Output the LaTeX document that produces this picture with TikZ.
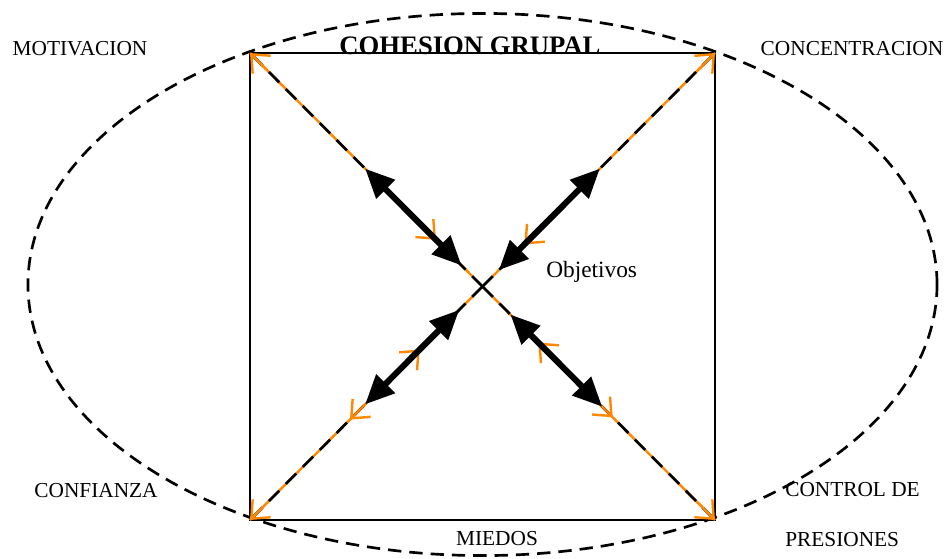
\documentclass[tikz,border=0pt]{standalone}
\usepackage{fontspec}
\setmainfont{Liberation Serif}
\usetikzlibrary{arrows.meta,calc}
\definecolor{naranja}{RGB}{255,136,0}

\begin{document}
\begin{tikzpicture}[x=0.75pt, y=-0.75pt,
  lbl/.style={font=\fontsize{16}{18}\selectfont, inner sep=0pt},
  ttl/.style={font=\fontsize{20}{22}\selectfont\bfseries, inner sep=0pt},
  ring/.style={line width=2pt, dash pattern=on 10pt off 6pt},
  diagbg/.style={draw=naranja, line width=1.8pt},
  diag/.style={line width=2pt, dash pattern=on 11pt off 7pt},
  otip/.style={-{Straight Barb[length=11pt, width=19pt]}, draw=naranja, line width=1.8pt},
  big/.style={{Triangle[length=22pt, width=19pt]}-{Triangle[length=22pt, width=19pt]}, line width=4.6pt},
]
\useasboundingbox (0,0) rectangle (950,558);

% === COHESION GRUPAL ===
\coordinate (nw) at (250,53);
\coordinate (ne) at (715,53);
\coordinate (se) at (715,520);
\coordinate (sw) at (250,520);
\coordinate (o) at ($(nw)!0.5!(se)$);

\draw[ring] (482.5,284.5) ellipse [x radius=340.9pt, y radius=203.3pt];
\draw[line width=1.8pt] (nw) -- (ne) -- (se) -- (sw) -- cycle;

% diagonales
\draw[diagbg] (nw) -- (se);
\draw[diagbg] (ne) -- (sw);
\draw[diag] (o) -- (nw);
\draw[diag] (o) -- (ne);
\draw[diag] (o) -- (sw);
\draw[diag] (o) -- (se);

% puntas naranjas
\foreach \c in {nw, ne, sw, se}
  \draw[otip] ($(o)!0.93!(\c)$) -- (\c);
\draw[otip] ($(o)!0.26!(nw)$) -- ($(o)!0.2!(nw)$);
\draw[otip] ($(o)!0.24!(ne)$) -- ($(o)!0.18!(ne)$);
\draw[otip] ($(o)!0.33!(sw)$) -- ($(o)!0.27!(sw)$);
\draw[otip] ($(o)!0.3!(se)$) -- ($(o)!0.24!(se)$);
\draw[otip] ($(o)!0.5!(sw)$) -- ($(o)!0.57!(sw)$);
\draw[otip] ($(o)!0.5!(se)$) -- ($(o)!0.56!(se)$);

% flechas negras
\draw[big] ($(o)!0.09!(nw)$) -- ($(o)!0.505!(nw)$);
\draw[big] ($(o)!0.07!(ne)$) -- ($(o)!0.505!(ne)$);
\draw[big] ($(o)!0.1!(sw)$) -- ($(o)!0.505!(sw)$);
\draw[big] ($(o)!0.12!(se)$) -- ($(o)!0.515!(se)$);

% textos
\node[ttl, anchor=base] (titulo) at (470,54) {COHESION GRUPAL};
\node[lbl] (motiv) at (80,49) {MOTIVACION};
\node[lbl] (conc) at (852,49) {CONCENTRACION};
\node[lbl] (conf) at (96,491) {CONFIANZA};
\node[lbl, anchor=west] (ctrl) at (785,490) {CONTROL DE};
\node[lbl, anchor=west] (pres) at (785,540) {PRESIONES};
\node[lbl] (miedos) at (497,539) {MIEDOS};
\node[lbl, anchor=west, font=\fontsize{17.5}{20}\selectfont] (obj) at (546,272) {Objetivos};
\end{tikzpicture}
\end{document}
